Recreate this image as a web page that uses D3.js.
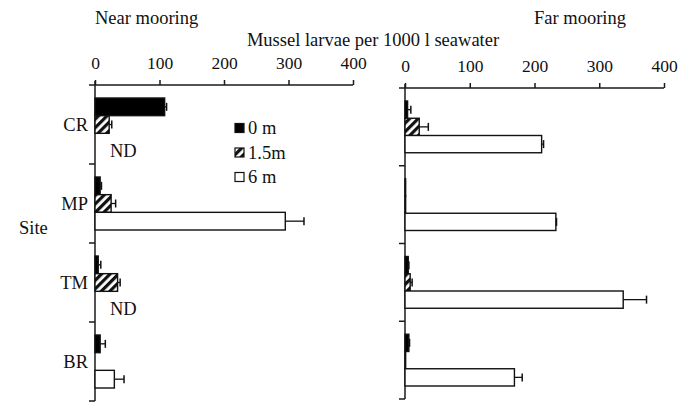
<!DOCTYPE html>
<html>
<head>
<meta charset="utf-8">
<script src="https://cdn.jsdelivr.net/npm/d3@7"></script>
<style>
  html, body { margin: 0; padding: 0; background: #fff; }
  svg { display: block; }
  text { font-family: "Liberation Serif", "DejaVu Serif", serif; fill: #111; }
</style>
</head>
<body>
<svg id="chart" width="688" height="403"></svg>
<script>
// Sites and sampling depths
const sites = ["CR", "MP", "TM", "BR"];
const depths = ["0 m", "1.5 m", "6 m"];
const legendLabels = ["0 m", "1.5m", "6 m"];
const ticks = [0, 100, 200, 300, 400];

// Near mooring: mean larvae per 1000 l and standard error (null = not determined)
const near0m = [108, 8, 5, 8];
const near0mErr = [3, 2, 4, 8];
const near15m = [22, 25, 35, 0];
const near15mErr = [4, 7, 4, 0];
const near6m = [null, 295, null, 30];
const near6mErr = [null, 29, null, 15];

// Far mooring
const far0m = [4, 1, 5, 6];
const far0mErr = [5, 0, 1, 1];
const far15m = [22, 1, 8, 1];
const far15mErr = [14, 0, 3, 0];
const far6m = [211, 233, 337, 169];
const far6mErr = [3, 1, 36, 12];

const FS = 18.5;

function rows(m0, e0, m15, e15, m6, e6) {
  const out = [];
  sites.forEach((s, i) => {
    out.push({ site: s, depth: depths[0], v: m0[i], e: e0[i] });
    out.push({ site: s, depth: depths[1], v: m15[i], e: e15[i] });
    out.push({ site: s, depth: depths[2], v: m6[i], e: e6[i] });
  });
  return out;
}

const svg = d3.select("#chart");
const ink = "#1a1a1a";

// hatch pattern for the 1.5 m bars
const defs = svg.append("defs");
defs.append("pattern")
  .attr("id", "hatch")
  .attr("patternUnits", "userSpaceOnUse")
  .attr("width", 6).attr("height", 6)
  .attr("patternTransform", "rotate(45)")
  .call(p => {
    p.append("rect").attr("width", 6).attr("height", 6).attr("fill", "#fff");
    p.append("rect").attr("width", 3.2).attr("height", 6).attr("fill", "#111");
  });

const fillFor = d => d === depths[0] ? "#000" : d === depths[1] ? "url(#hatch)" : "#fff";

function panel(opts) {
  const { data, xRange, yRange, title, titleX, showSites } = opts;
  const x = d3.scaleLinear().domain([0, 400]).range(xRange);
  const y = d3.scaleBand().domain(sites).range(yRange);
  const yi = d3.scaleBand().domain(depths).range([13, y.bandwidth() - 13]);
  const g = svg.append("g");
  const top = yRange[0], bottom = yRange[1];

  // top value axis
  const ax = g.append("g")
    .attr("transform", `translate(0,${top})`)
    .call(d3.axisTop(x).tickValues(ticks).tickSize(5).tickSizeOuter(0).tickPadding(11));
  ax.select(".domain").remove();
  ax.selectAll(".tick line").attr("stroke", ink).attr("stroke-width", 1.5);
  ax.selectAll(".tick text").attr("font-size", 17.5).attr("font-family", "Liberation Serif").attr("fill", "#111");
  g.append("line")
    .attr("x1", x(0) - 6).attr("x2", x(400))
    .attr("y1", top).attr("y2", top)
    .attr("stroke", ink).attr("stroke-width", 1.5);

  // site axis
  g.append("line")
    .attr("x1", x(0)).attr("x2", x(0))
    .attr("y1", top - 4).attr("y2", bottom)
    .attr("stroke", ink).attr("stroke-width", 1.5);
  g.selectAll(".sitetick").data(sites).enter().append("line")
    .attr("x1", x(0) - 6).attr("x2", x(0))
    .attr("y1", d => y(d) + y.bandwidth())
    .attr("y2", d => y(d) + y.bandwidth())
    .attr("stroke", ink).attr("stroke-width", 1.5);

  if (showSites) {
    g.selectAll(".sitelab").data(sites).enter().append("text")
      .attr("x", x(0) - 7)
      .attr("y", d => y(d) + y.bandwidth() / 2)
      .attr("dy", "0.35em")
      .attr("text-anchor", "end")
      .attr("font-size", FS)
      .text(d => d);
  }

  const valid = data.filter(d => d.v !== null);
  g.selectAll(".bar").data(valid).enter().append("rect")
    .attr("x", x(0))
    .attr("y", d => y(d.site) + yi(d.depth))
    .attr("width", d => x(d.v) - x(0))
    .attr("height", yi.bandwidth())
    .attr("fill", d => fillFor(d.depth))
    .attr("stroke", "#111")
    .attr("stroke-width", d => d.v > 0 ? 1.4 : 0);

  // positive error whiskers
  const err = valid.filter(d => d.e > 0);
  g.selectAll(".err").data(err).enter().append("line")
    .attr("x1", d => x(d.v)).attr("x2", d => x(d.v + d.e))
    .attr("y1", d => y(d.site) + yi(d.depth) + yi.bandwidth() / 2)
    .attr("y2", d => y(d.site) + yi(d.depth) + yi.bandwidth() / 2)
    .attr("stroke", "#111").attr("stroke-width", 1.3);
  g.selectAll(".cap").data(err).enter().append("line")
    .attr("x1", d => x(d.v + d.e)).attr("x2", d => x(d.v + d.e))
    .attr("y1", d => y(d.site) + yi(d.depth) + yi.bandwidth() / 2 - 4)
    .attr("y2", d => y(d.site) + yi(d.depth) + yi.bandwidth() / 2 + 4)
    .attr("stroke", "#111").attr("stroke-width", 1.5);

  // not determined
  g.selectAll(".nd").data(data.filter(d => d.v === null)).enter().append("text")
    .attr("x", x(0) + 15)
    .attr("y", d => y(d.site) + yi(d.depth) + yi.bandwidth())
    .attr("dy", "0.35em")
    .attr("font-size", FS)
    .text("ND");

  svg.append("text")
    .attr("x", titleX).attr("y", 18).attr("dy", "0.35em")
    .attr("font-size", FS)
    .text(title);
  return { x, y };
}

panel({
  data: rows(near0m, near0mErr, near15m, near15mErr, near6m, near6mErr),
  xRange: [95, 353], yRange: [85, 401],
  title: "Near mooring", titleX: 95, showSites: true
});
panel({
  data: rows(far0m, far0mErr, far15m, far15mErr, far6m, far6mErr),
  xRange: [405, 664], yRange: [88, 399],
  title: "Far mooring", titleX: 534, showSites: false
});

// shared axis title and site label
svg.append("text")
  .attr("x", 373).attr("y", 40).attr("dy", "0.35em")
  .attr("text-anchor", "middle").attr("font-size", FS)
  .text("Mussel larvae per 1000 l seawater");
svg.append("text")
  .attr("x", 19).attr("y", 228).attr("dy", "0.35em")
  .attr("font-size", FS)
  .text("Site");

// legend
const legend = svg.append("g").attr("transform", "translate(235,128)");
depths.forEach((d, i) => {
  const r = legend.append("g").attr("transform", `translate(0,${i * 24.5})`);
  r.append("rect").attr("x", 0).attr("y", -4.5).attr("width", 9).attr("height", 9)
    .attr("fill", fillFor(d)).attr("stroke", "#111").attr("stroke-width", 1.2);
  r.append("text").attr("x", 13).attr("y", 0).attr("dy", "0.35em")
    .attr("font-size", FS).text(legendLabels[i]);
});
</script>
</body>
</html>
